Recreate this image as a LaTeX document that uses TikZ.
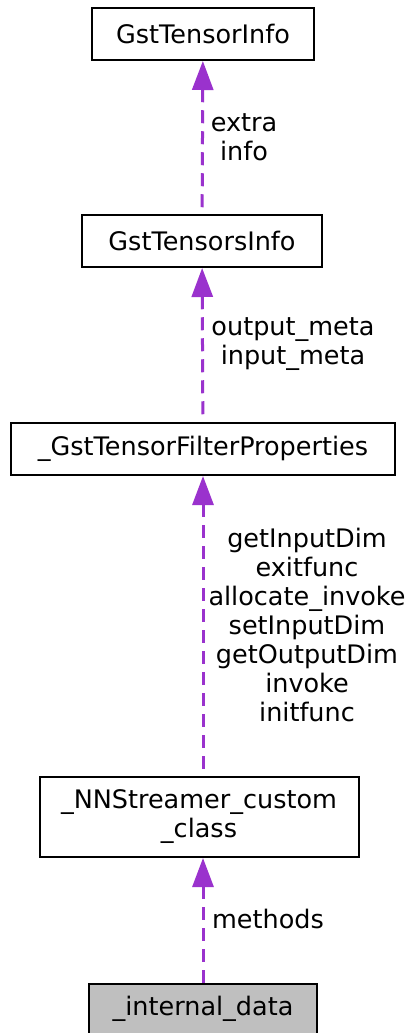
\documentclass[tikz,border=0pt]{standalone}
\usepackage{fontspec}
\setmainfont{DejaVu Sans}
\usetikzlibrary{arrows.meta}
\definecolor{edgec}{HTML}{9A32CD}
\begin{document}
\begin{tikzpicture}[x=1pt,y=-1pt,
  cls/.style={draw=black,line width=2pt,minimum height=52pt,inner sep=0pt,font=\fontsize{25.5}{29}\selectfont,align=center},
  rel/.style={draw=edgec,line width=3pt,dash pattern=on 13pt off 8pt,{Triangle[length=29pt,width=21pt,fill=edgec]}-},
  lbl/.style={font=\fontsize{25.5}{29}\selectfont,align=center}]
\useasboundingbox (0,0) rectangle (410,1033);
\node[cls,minimum width=222pt] (ti) at (203,34) {GstTensorInfo};
\node[cls,minimum width=240pt] (tsi) at (202,241) {GstTensorsInfo};
\node[cls,minimum width=384pt] (fp) at (203,449) {\_GstTensorFilterProperties};
\node[cls,minimum width=319pt,minimum height=80pt] (nn) at (199,817) {\_NNStreamer\_custom\\\_class};
\node[cls,minimum width=228pt,minimum height=50pt,fill=black!25] (id) at (203,1009) {\_internal\_data};
\draw[rel] (ti) -- (tsi);
\draw[rel] (tsi) -- (fp);
\draw[rel] (fp.south -| ti) -- (nn.north -| ti);
\draw[rel] (nn.south -| ti) -- (id);
\node[lbl] (l1) at (244,137) {extra\\info};
\node[lbl] (l2) at (293,344) {output\_meta\\input\_meta};
\node[lbl] (l3) at (307,625) {getInputDim\\exitfunc\\allocate\_invoke\\setInputDim\\getOutputDim\\invoke\\initfunc};
\node[lbl] (l4) at (268,919) {methods};
\end{tikzpicture}
\end{document}
